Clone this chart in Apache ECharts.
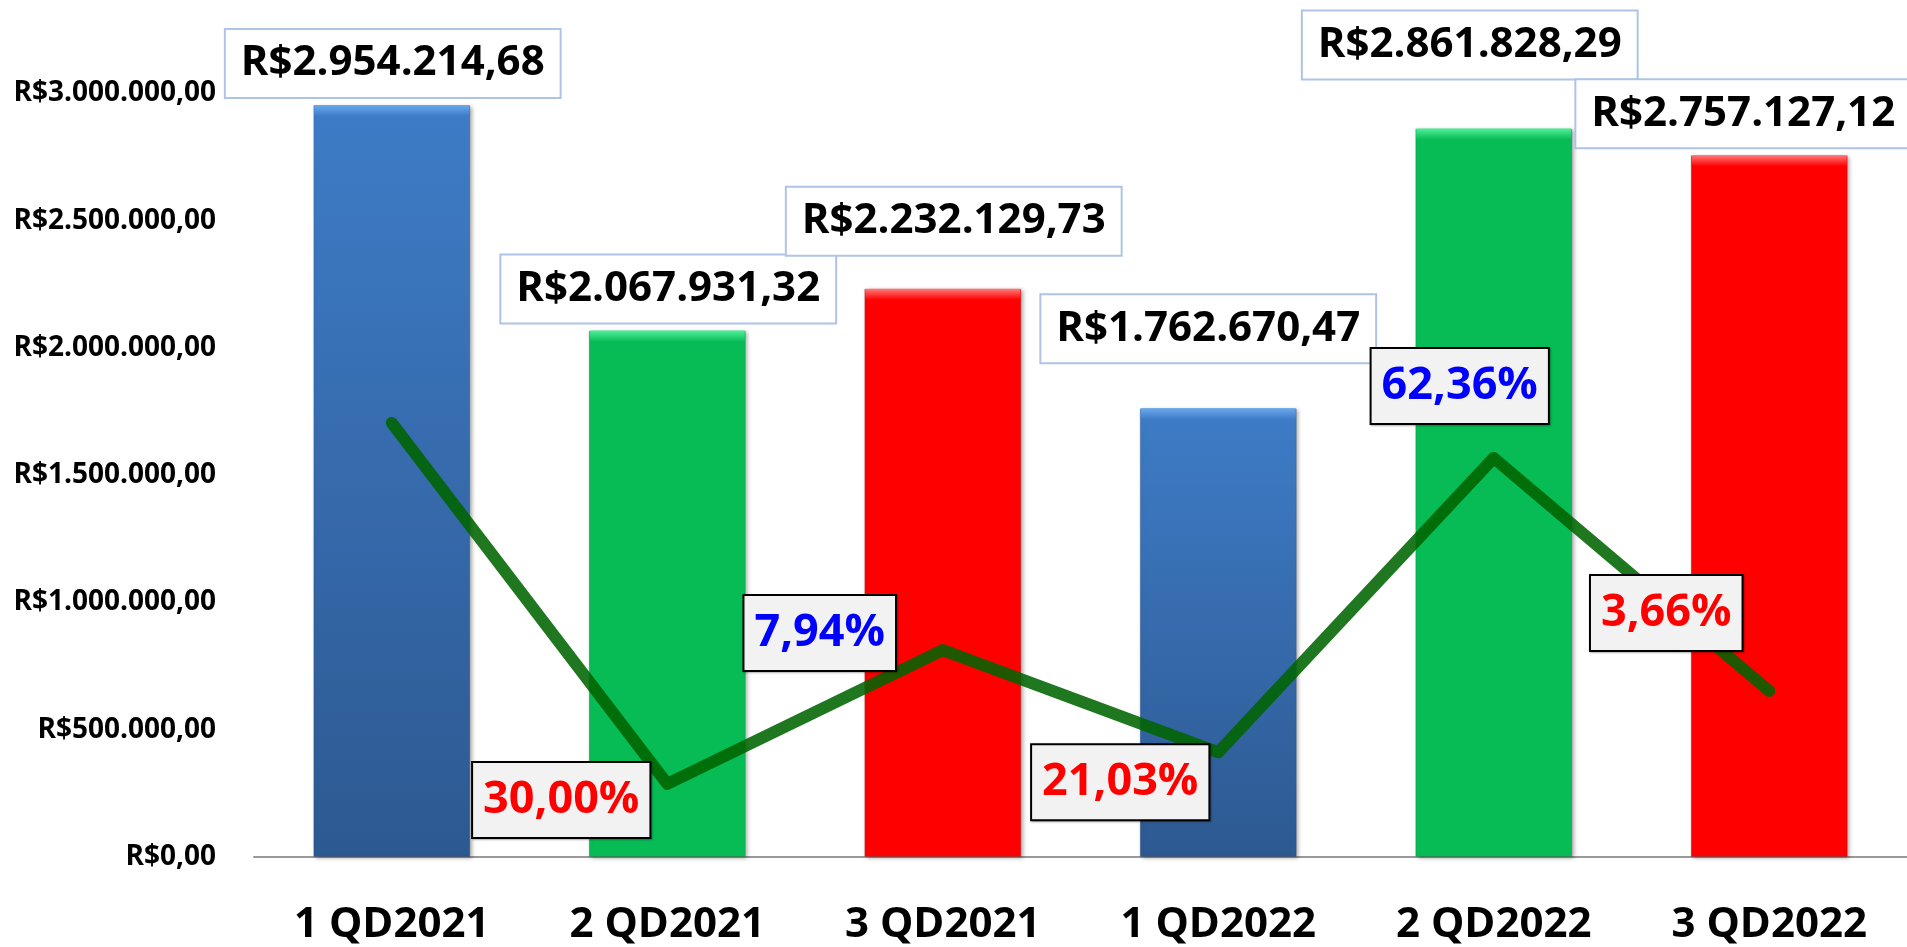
<!DOCTYPE html>
<html>
<head>
<meta charset="utf-8">
<title>Faturamento por quadrimestre</title>
<script src="https://cdn.jsdelivr.net/npm/echarts@6/dist/echarts.min.js"></script>
<style>
  html, body { margin: 0; padding: 0; background: #fff; }
  #chart { width: 1907px; height: 947px; }
</style>
</head>
<body>
<div id="chart"></div>
<script>
// dados
const categories = ['1 QD2021', '2 QD2021', '3 QD2021', '1 QD2022', '2 QD2022', '3 QD2022']
const faturamento = [2954214.68, 2067931.32, 2232129.73, 1762670.47, 2861828.29, 2757127.12]
// variação percentual sobre o quadrimestre anterior (o 1º ponto não tem rótulo)
const variacao = [72.3, -30.0, 7.94, -21.03, 62.36, -3.66]
const yTicks = [0, 500000, 1000000, 1500000, 2000000, 2500000, 3000000]

// estilo
const FONT = 'Open Sans'
const barColors = [
  new echarts.graphic.LinearGradient(0, 0, 0, 1, [
    { offset: 0, color: '#3e7cc7' },
    { offset: 1, color: '#2d5991' },
  ]),
  '#07bb55',
  '#ff0000',
]
// brilho do topo: [claro, cor base]
const capColors = [
  ['#6aa8ee', '#3e7cc7'],
  ['#4ff09a', '#07bb55'],
  ['#ff7a7a', '#ff0000'],
]
// deslocamento dos rótulos (ajuste manual como no original)
const barLabelOffsets = [[1, 0], [1, 0], [11, -26], [-10, -38], [-24, -42], [-26, 0]]
const pctLabelOffsets = [[0, 0], [-106, 16], [-123, -17], [-98, 30], [-34, -72], [-103, -78]]

function brl(v) {
  const parts = Math.abs(v).toFixed(2).split('.')
  const inteiro = parts[0].replace(/\B(?=(\d{3})+(?!\d))/g, '.')
  return 'R$' + inteiro + ',' + parts[1]
}

function pct(v) {
  return Math.abs(v).toFixed(2).replace('.', ',') + '%'
}

const chart = echarts.init(document.getElementById('chart'))

const option = {
  animation: false,
  textStyle: { fontFamily: FONT },
  grid: { left: 254, right: -7, top: 17, bottom: 90 },
  xAxis: {
    type: 'category',
    data: categories,
    axisTick: { show: false },
    axisLine: { lineStyle: { color: '#999', width: 2 } },
    axisLabel: {
      color: '#000',
      fontFamily: FONT,
      fontWeight: 'bold',
      fontSize: 42,
      margin: 47,
    },
  },
  yAxis: [
    {
      type: 'value',
      min: 0,
      max: 3300000,
      interval: 500000,
      axisLine: { show: false },
      axisTick: { show: false },
      splitLine: { show: false },
      axisLabel: {
        color: '#000',
        fontFamily: FONT,
        fontWeight: 'bold',
        fontSize: 28,
        margin: 38,
        showMaxLabel: false,
        formatter: (v) => (yTicks.indexOf(v) >= 0 ? brl(v) : ''),
      },
    },
    {
      type: 'value',
      min: -50.7,
      max: 187.3,
      show: false,
      splitLine: { show: false },
    },
  ],
  series: [
    {
      name: 'Faturamento',
      type: 'bar',
      barWidth: 157,
      z: 2,
      data: faturamento.map((v, i) => ({
        value: v,
        itemStyle: { color: barColors[i % 3] },
        label: { offset: barLabelOffsets[i] },
      })),
      itemStyle: {
        borderColor: 'rgba(0,0,0,0.12)',
        borderWidth: 1,
        shadowBlur: 4,
        shadowOffsetX: 2,
        shadowOffsetY: 1,
        shadowColor: 'rgba(0,0,0,0.35)',
      },
      label: {
        show: true,
        position: 'top',
        distance: 8,
        formatter: (p) => brl(p.value),
        color: '#000',
        fontFamily: FONT,
        fontWeight: 'bold',
        fontSize: 42,
        lineHeight: 47,
        padding: [10, 15],
        backgroundColor: '#fff',
        borderColor: '#aec3e6',
        borderWidth: 2,
      },
    },
    {
      // brilho no topo das colunas
      type: 'pictorialBar',
      symbol: 'rect',
      symbolSize: [155, 11],
      symbolPosition: 'end',
      z: 3,
      silent: true,
      data: faturamento.map((v, i) => ({
        value: v,
        itemStyle: {
          color: new echarts.graphic.LinearGradient(0, 0, 0, 1, [
            { offset: 0, color: capColors[i % 3][0] },
            { offset: 1, color: capColors[i % 3][1] },
          ]),
        },
      })),
    },
    {
      name: 'Variação',
      type: 'line',
      yAxisIndex: 1,
      z: 5,
      symbol: 'circle',
      symbolSize: 1,
      showSymbol: true,
      itemStyle: { color: '#1f761f' },
      lineStyle: {
        color: '#006400',
        width: 12,
        opacity: 0.88,
        cap: 'round',
        join: 'round',
      },
      data: variacao.map((v, i) => ({
        value: v,
        label:
          i === 0
            ? { show: false }
            : { offset: pctLabelOffsets[i], color: v < 0 ? '#ff0000' : '#0000ff' },
      })),
      label: {
        show: true,
        position: 'inside',
        formatter: (p) => pct(p.value),
        fontFamily: FONT,
        fontWeight: 'bold',
        fontSize: 45,
        lineHeight: 50,
        padding: [12, 10],
        backgroundColor: '#f2f2f2',
        borderColor: '#000',
        borderWidth: 2,
        shadowBlur: 2,
        shadowColor: 'rgba(0,0,0,0.3)',
        shadowOffsetX: 1,
        shadowOffsetY: 1,
      },
    },
  ],
}

chart.setOption(option)
</script>
</body>
</html>
